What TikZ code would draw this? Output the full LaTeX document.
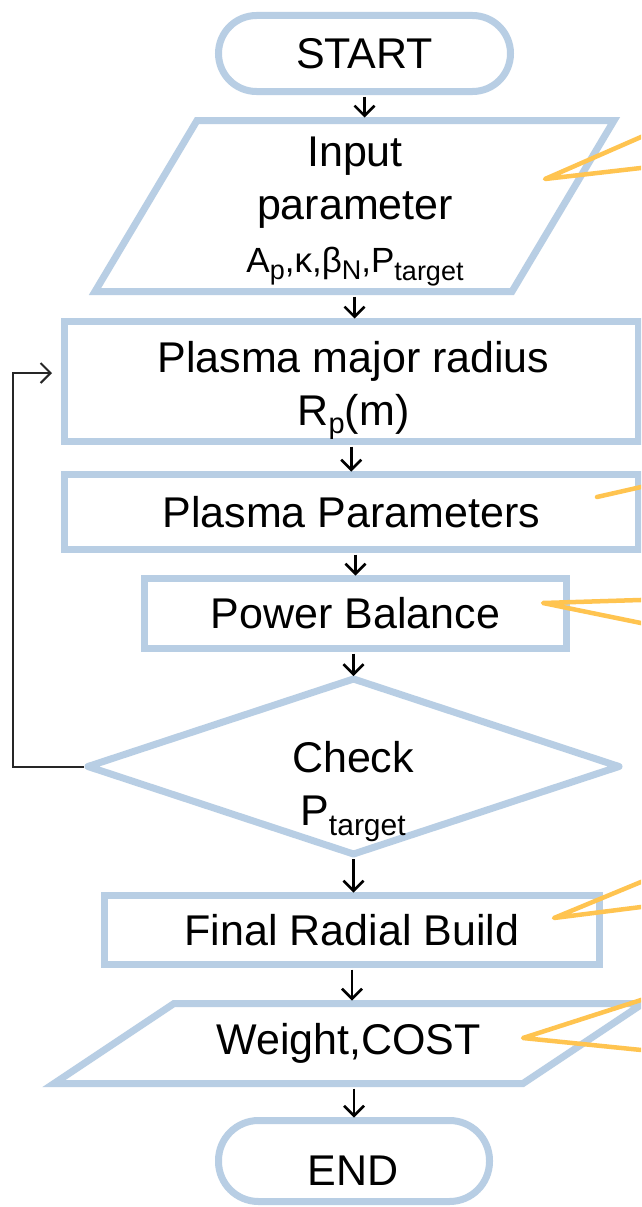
\documentclass[tikz,border=0pt]{standalone}
\usepackage{fontspec}
\setmainfont{Liberation Sans}
\usetikzlibrary{shapes.geometric,arrows.meta,calc}
\definecolor{shpblue}{RGB}{184,206,228}
\definecolor{callc}{RGB}{255,196,80}
\newcommand\sbx[3]{\raisebox{-#1pt}{\fontsize{#2}{#2}\selectfont #3}}
\begin{document}
\begin{tikzpicture}[x=1pt,y=-1pt,
  shp/.style={draw=shpblue, line width=7pt, inner sep=0pt, outer sep=0pt,
    font=\fontsize{43}{53}\selectfont, text=black},
  plain/.style={inner sep=0pt, outer sep=0pt, font=\fontsize{43}{53}\selectfont, text=black},
  shpline/.style={draw=shpblue, line width=7pt, line join=miter},
  txt/.style={inner sep=0pt, outer sep=0pt, align=center, font=\fontsize{43}{53}\selectfont, text=black},
  arr/.style={draw=black, line width=2.5pt, -{Straight Barb[length=10pt,width=20pt]},
    shorten <=5pt, shorten >=3pt},
  looparr/.style={draw=black!85, line width=2pt, -{Straight Barb[length=10pt,width=20pt]},
    shorten <=4pt, shorten >=12.5pt},
  callout/.style={draw=callc, line width=4.5pt, line cap=round, line join=round}]
\useasboundingbox (0,0) rectangle (641,1207);
\fill[white] (0,0) rectangle (641,1207);
\clip (0,0) rectangle (641,1207);

% START
\node[shp, rounded corners=38pt, minimum width=292pt, minimum height=76pt] (start) at (364.5,53.5) {START};

% Input parameter (parallelogram)
\node[plain, minimum width=417pt, minimum height=171pt] (inp) at (354.5,206) {};
\draw[shpline] ([xshift=51pt]inp.north west) -- ([xshift=51pt]inp.north east)
  -- ([xshift=-51pt]inp.south east) -- ([xshift=-51pt]inp.south west) -- cycle;
\node[txt, anchor=north] (inptxt) at (355,137) {Input\\parameter\\{\fontsize{35}{53}\selectfont A\sbx{7}{27}{p},κ,β\sbx{7}{27}{N},P\sbx{8}{27}{target}}};

% Plasma major radius
\node[shp, minimum width=573.5pt, minimum height=120pt] (pmr) at (351.25,381.5) {};
\node[txt, anchor=north] (pmrtxt) at (353.5,341) {Plasma major radius\\R\sbx{8}{29}{p}(m)};

% Plasma Parameters
\node[shp, minimum width=573.5pt, minimum height=75pt] (pp) at (351.25,512) {Plasma Parameters};

% Power Balance
\node[shp, minimum width=422pt, minimum height=70pt] (pb) at (355.5,613.5) {Power Balance};

% Check diamond
\node[shp, diamond, line join=round, minimum width=531pt, minimum height=175pt] (chk) at (353.5,766.5) {};
\node[txt, anchor=north] (chktxt) at (353,741) {Check\\P\sbx{10}{30}{target}};

% Final Radial Build
\node[shp, minimum width=495pt, minimum height=69pt] (frb) at (352,930) {Final Radial Build};

% Weight, COST (parallelogram)
\node[plain, minimum width=469pt, minimum height=80pt] (wc) at (348.5,1043.5) {Weight,COST};
\draw[shpline] ([xshift=60pt]wc.north west) -- ([xshift=60pt]wc.north east)
  -- ([xshift=-60pt]wc.south east) -- ([xshift=-60pt]wc.south west) -- cycle;

% END
\node[shp, rounded corners=40pt, minimum width=271pt, minimum height=81pt] (endn) at (354,1161) {};
\node[plain, anchor=base] (endtxt) at (353,1185) {END};

% connectors
\draw[arr] (start.south) -- (start.south |- inp.north);
\draw[arr] (inp.south) -- (inp.south |- pmr.north);
\draw[arr] (pmr.south) -- (pmr.south |- pp.north);
\draw[arr] (pb.north |- pp.south) -- (pb.north);
\draw[arr] (chk.north |- pb.south) -- (chk.north);
\draw[arr] (chk.south) -- (chk.south |- frb.north);
\draw[arr] (frb.south) -- (frb.south |- wc.north);
\draw[arr] (endn.north |- wc.south) -- (endn.north);

% feedback loop
\coordinate (loopx) at (13,0);
\coordinate (loopin) at ($(pmr.west)+(0,-8.5)$);
\draw[looparr] (chk.west) -- (chk.west -| loopx) |- (loopin);

% callouts (cut by the right edge)
\coordinate (c1t) at (545,179); \coordinate (c1a) at (660,128.7); \coordinate (c1b) at (660,165.8);
\draw[callout] (c1a) -- (c1t) -- (c1b);
\coordinate (c2t) at (597,497); \coordinate (c2a) at (660,482.7);
\draw[callout] (c2t) -- (c2a);
\coordinate (c3t) at (543,603); \coordinate (c3a) at (660,599.4); \coordinate (c3b) at (660,626.9);
\draw[callout] (c3a) -- (c3t) -- (c3b);
\coordinate (c4t) at (554,918); \coordinate (c4a) at (660,874.1); \coordinate (c4b) at (660,904.6);
\draw[callout] (c4a) -- (c4t) -- (c4b);
\coordinate (c5t) at (523,1038); \coordinate (c5a) at (660,993.9); \coordinate (c5b) at (660,1051.9);
\draw[callout] (c5a) -- (c5t) -- (c5b);
\end{tikzpicture}
\end{document}
